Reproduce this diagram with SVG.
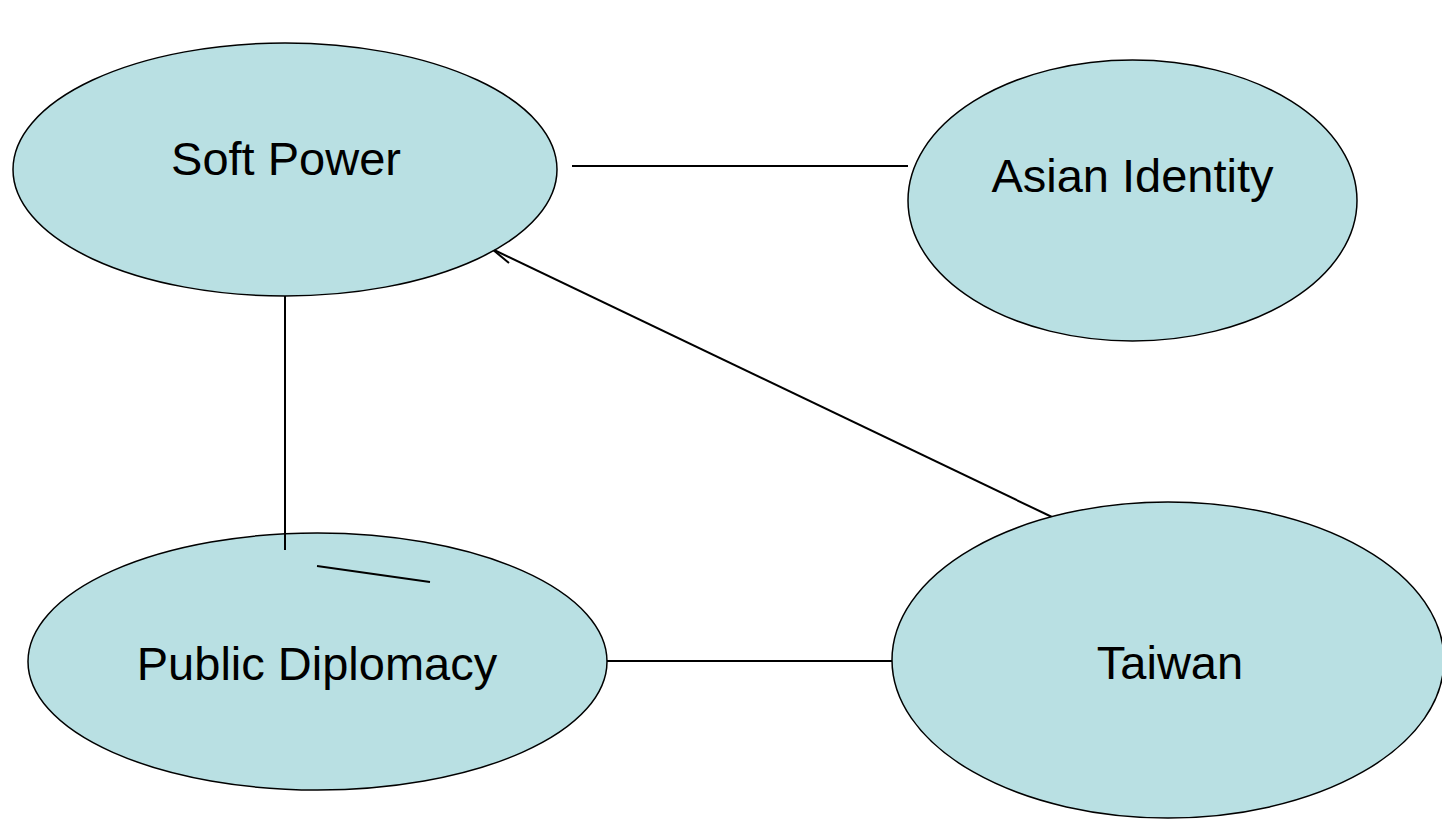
<svg xmlns="http://www.w3.org/2000/svg" width="1442" height="821" viewBox="0 0 1442 821">
<style>
.node ellipse{fill:#b9e0e3;stroke:#000;stroke-width:1.5}
.node text{font-family:"Liberation Sans",Arial,sans-serif;font-size:47px;fill:#000;text-anchor:middle}
.conn line,.conn polyline{stroke:#000;stroke-width:2;fill:none}
</style>
<rect width="1442" height="821" fill="#fff"/>
<g id="arrow-under">
<g class="conn"><line x1="1052" y1="517" x2="492" y2="249"/><line x1="492" y1="249" x2="509" y2="263"/></g>
</g>
<g id="soft-power" class="node"><ellipse cx="285" cy="169.5" rx="272" ry="126.5"/><text x="286" y="175">Soft Power</text></g>
<g id="asian-identity" class="node"><ellipse cx="1132.5" cy="200.5" rx="224.5" ry="140.5"/><text x="1132.5" y="192">Asian Identity</text></g>
<g id="public-diplomacy" class="node"><ellipse cx="317.5" cy="661.5" rx="289.5" ry="128.5"/><text x="317" y="680">Public Diplomacy</text></g>
<g id="taiwan" class="node"><ellipse cx="1168" cy="660" rx="276" ry="158"/><text x="1170" y="679">Taiwan</text></g>
<g id="connectors" class="conn">
<line x1="572" y1="166" x2="908" y2="166"/>
<line x1="285" y1="296" x2="285" y2="550"/>
<line x1="317" y1="566" x2="430" y2="582"/>
<line x1="607" y1="661" x2="892" y2="661"/>
</g>
</svg>
